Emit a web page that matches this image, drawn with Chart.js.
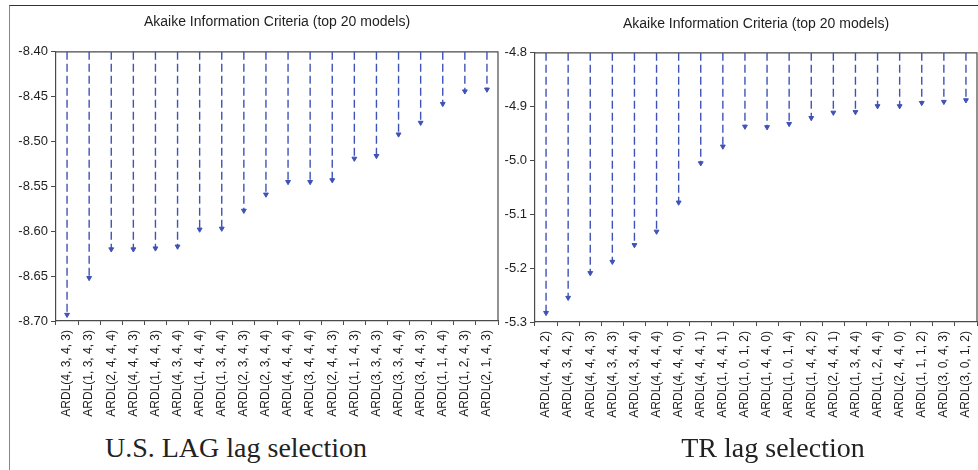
<!DOCTYPE html>
<html>
<head>
<meta charset="utf-8">
<script src="https://cdn.jsdelivr.net/npm/chart.js@4"></script>
<style>
  html, body { margin: 0; padding: 0; width: 978px; height: 470px; overflow: hidden; background: #fff; }
  #frame { position: absolute; left: 9px; top: 5px; width: 990px; height: 480px; border-top: 1px solid #333; border-left: 1px solid #888; }
  .box { position: absolute; }
  .caption { position: absolute; font-family: "Liberation Serif", "Times New Roman", serif; font-size: 28px; line-height: 28px; color: #222; white-space: nowrap; transform: translateX(-50%); }
</style>
</head>
<body>
<div id="frame"></div>
<div class="box" style="left:9px; top:5px; width:494px; height:426px;"><canvas id="c1"></canvas></div>
<div class="box" style="left:498px; top:5px; width:484px; height:427px;"><canvas id="c2"></canvas></div>
<div class="caption" style="left:236px; top:434px;">U.S. LAG lag selection</div>
<div class="caption" style="left:773px; top:434px;">TR lag selection</div>
<script>
// ---- Data ----
const usCategories = [
  "ARDL(4, 3, 4, 3)", "ARDL(1, 3, 4, 3)", "ARDL(2, 4, 4, 4)", "ARDL(4, 4, 4, 3)", "ARDL(1, 4, 4, 3)",
  "ARDL(4, 3, 4, 4)", "ARDL(1, 4, 4, 4)", "ARDL(1, 3, 4, 4)", "ARDL(2, 3, 4, 3)", "ARDL(2, 3, 4, 4)",
  "ARDL(4, 4, 4, 4)", "ARDL(3, 4, 4, 4)", "ARDL(2, 4, 4, 3)", "ARDL(1, 1, 4, 3)", "ARDL(3, 3, 4, 3)",
  "ARDL(3, 3, 4, 4)", "ARDL(3, 4, 4, 3)", "ARDL(1, 1, 4, 4)", "ARDL(1, 2, 4, 3)", "ARDL(2, 1, 4, 3)"
];
const usValues = [
  -8.693, -8.652, -8.620, -8.620, -8.619, -8.617, -8.598, -8.597, -8.577, -8.559,
  -8.545, -8.545, -8.543, -8.519, -8.516, -8.492, -8.479, -8.458, -8.444, -8.442
];
const usTicks = [-8.70, -8.65, -8.60, -8.55, -8.50, -8.45, -8.40];

const trCategories = [
  "ARDL(4, 4, 4, 2)", "ARDL(4, 3, 4, 2)", "ARDL(4, 4, 4, 3)", "ARDL(4, 3, 4, 3)", "ARDL(4, 3, 4, 4)",
  "ARDL(4, 4, 4, 4)", "ARDL(4, 4, 4, 0)", "ARDL(4, 4, 4, 1)", "ARDL(1, 4, 4, 1)", "ARDL(1, 0, 1, 2)",
  "ARDL(1, 4, 4, 0)", "ARDL(1, 0, 1, 4)", "ARDL(1, 4, 4, 2)", "ARDL(2, 4, 4, 1)", "ARDL(1, 3, 4, 4)",
  "ARDL(1, 2, 4, 4)", "ARDL(2, 4, 4, 0)", "ARDL(1, 1, 1, 2)", "ARDL(3, 0, 4, 3)", "ARDL(3, 0, 1, 2)"
];
const trValues = [
  -5.283, -5.255, -5.209, -5.188, -5.157, -5.132, -5.078, -5.005, -4.974, -4.937,
  -4.938, -4.932, -4.921, -4.911, -4.910, -4.899, -4.899, -4.893, -4.891, -4.888
];
const trTicks = [-5.3, -5.2, -5.1, -5.0, -4.9, -4.8];

const chartTitle = "Akaike Information Criteria (top 20 models)";

// ---- Styles ----
const stemColor = "#3e52b8";
const axisColor = "#4a4a4a";
const textColor = "#1e1e1e";

const framePlugin = {
  id: "frame",
  beforeDatasetsDraw(chart) {
    const a = chart.chartArea, ctx = chart.ctx;
    ctx.save();
    ctx.strokeStyle = axisColor;
    ctx.lineWidth = 1.2;
    ctx.beginPath();
    ctx.moveTo(a.left, a.top);
    ctx.lineTo(a.right, a.top);
    ctx.lineTo(a.right, a.bottom);
    ctx.stroke();
    ctx.restore();
  }
};

function makeChart(id, cats, vals, ticks, decimals, yWidth, titlePad) {
  const top = ticks[ticks.length - 1];
  const stems = [];
  cats.forEach((c, i) => {
    stems.push({ x: c, y: top }, { x: c, y: vals[i] }, { x: c, y: null });
  });
  return new Chart(document.getElementById(id), {
    type: "line",
    data: {
      labels: cats,
      datasets: [
        {
          data: stems,
          borderColor: stemColor,
          borderWidth: 1.4,
          borderDash: [8, 4],
          pointRadius: 0,
          spanGaps: false,
          fill: false
        },
        {
          data: vals,
          showLine: false,
          pointStyle: "triangle",
          rotation: 180,
          pointRadius: 2.8,
          backgroundColor: stemColor,
          borderColor: stemColor,
          borderWidth: 1
        }
      ]
    },
    options: {
      responsive: true,
      maintainAspectRatio: false,
      animation: false,
      layout: { padding: { right: 1, left: 0, top: 0, bottom: 0 } },
      plugins: {
        legend: { display: false },
        tooltip: { enabled: false },
        title: {
          display: true,
          fullSize: false,
          text: chartTitle,
          color: textColor,
          font: { family: "Liberation Sans, Arial, sans-serif", size: 14, weight: "normal" },
          padding: titlePad
        }
      },
      scales: {
        x: {
          type: "category",
          offset: true,
          grid: { display: true, offset: true, drawOnChartArea: false, drawTicks: true, tickLength: 4, color: axisColor },
          border: { display: true, color: axisColor, width: 1.2 },
          ticks: {
            autoSkip: false, maxRotation: 90, minRotation: 90, padding: 5,
            color: textColor,
            font: { family: "Liberation Sans, Arial, sans-serif", size: 12 }
          },
          afterFit(s) { s.height = 110; s.paddingLeft = 0; s.paddingRight = 0; }
        },
        y: {
          min: ticks[0],
          max: top,
          afterBuildTicks(s) { s.ticks = ticks.map(v => ({ value: v })); },
          grid: { display: true, drawOnChartArea: false, drawTicks: true, tickLength: 5, color: axisColor },
          border: { display: true, color: axisColor, width: 1.2 },
          ticks: {
            padding: 3,
            color: textColor,
            font: { family: "Liberation Sans, Arial, sans-serif", size: 13 },
            callback: v => Number(v).toFixed(decimals)
          },
          afterFit(s) { s.width = yWidth; s.paddingTop = 0; s.paddingBottom = 0; }
        }
      }
    },
    plugins: [framePlugin]
  });
}

makeChart("c1", usCategories, usValues, usTicks, 2, 47, { top: 9, bottom: 21 });
makeChart("c2", trCategories, trValues, trTicks, 1, 37, { top: 11, bottom: 20 });
</script>
</body>
</html>
